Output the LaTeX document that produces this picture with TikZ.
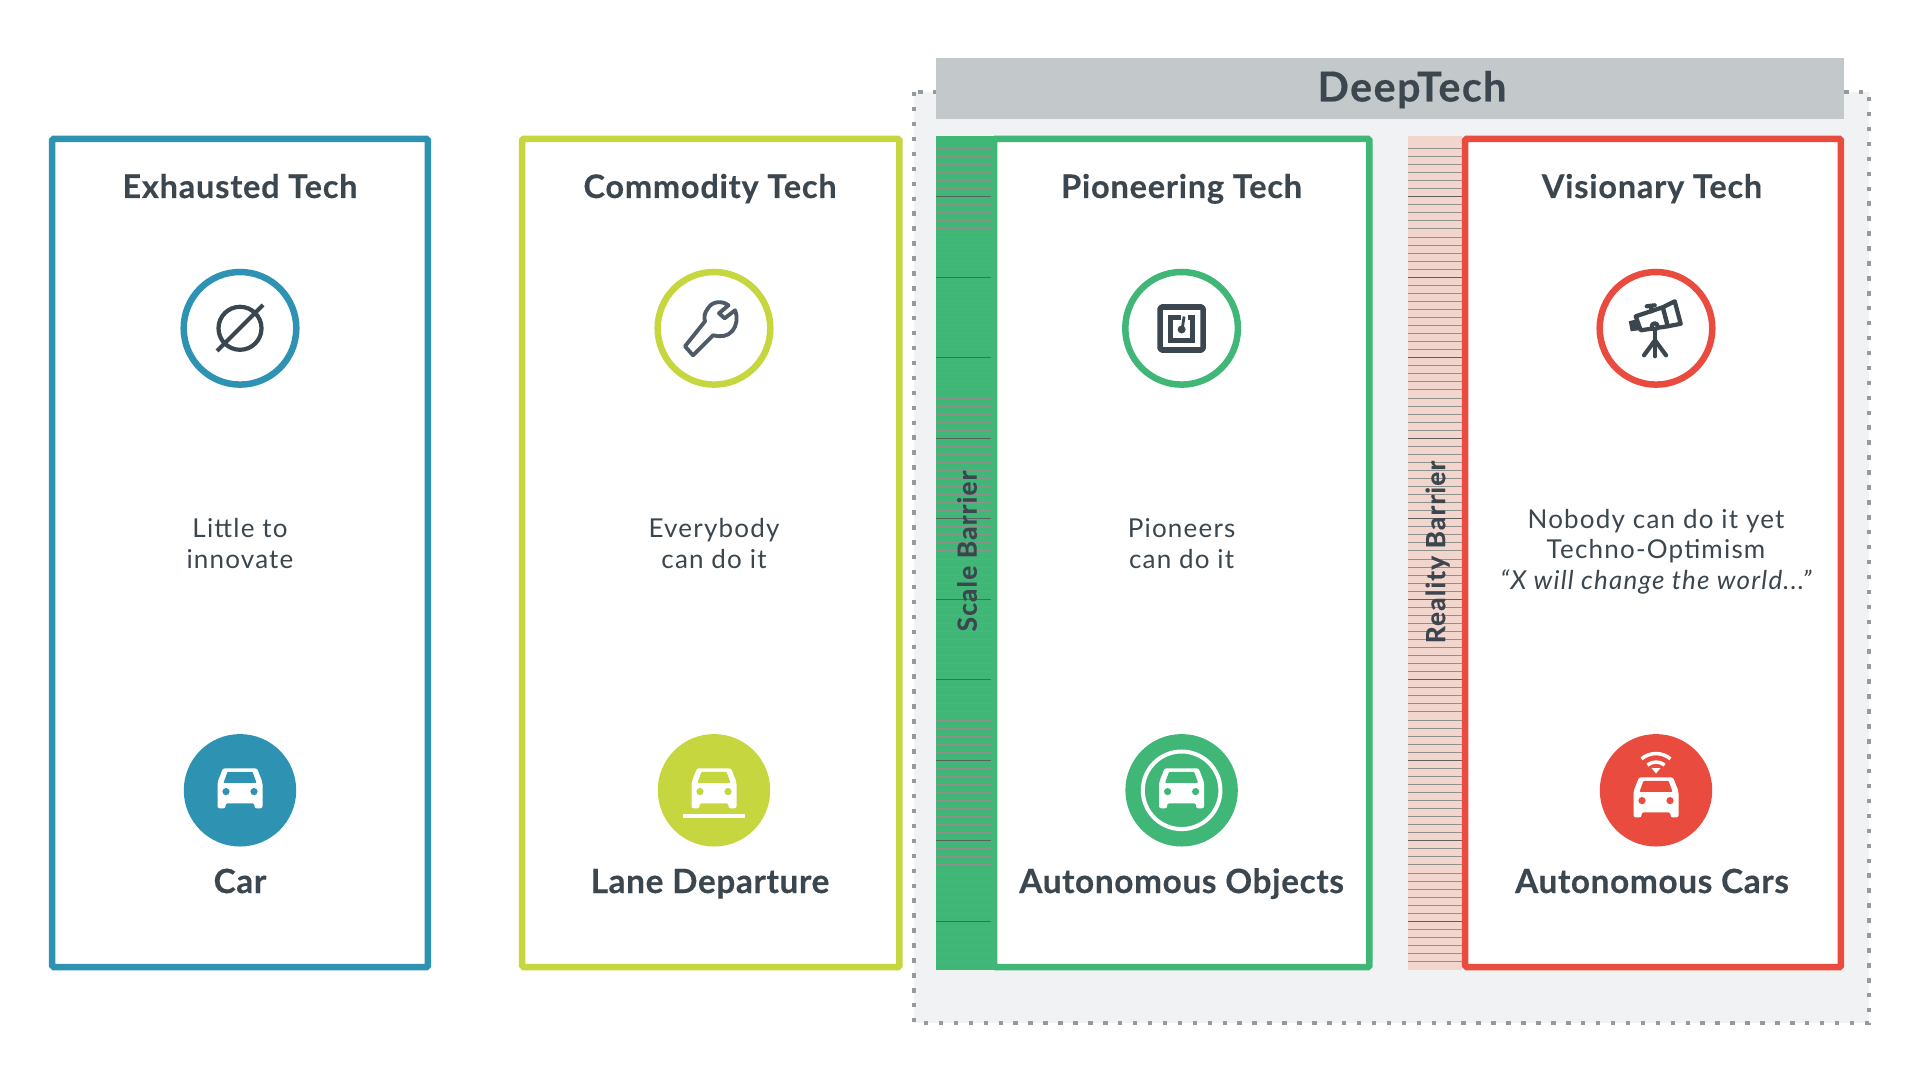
\documentclass[tikz,border=0pt]{standalone}
\usepackage{fontspec}
\setmainfont{Lato}[BoldFeatures={FakeBold=0.3}]
\definecolor{azulTech}{RGB}{46,147,178}
\definecolor{limaTech}{RGB}{198,214,63}
\definecolor{verdeTech}{RGB}{64,182,119}
\definecolor{rojoTech}{RGB}{233,76,63}
\definecolor{tinta}{RGB}{60,70,78}
\definecolor{tintaLlave}{RGB}{78,90,102}
\definecolor{bannerGris}{RGB}{195,200,202}
\definecolor{fondoGris}{RGB}{240,242,243}
\definecolor{puntoGris}{RGB}{147,155,156}
\definecolor{barreraRosa}{RGB}{242,213,204}
\definecolor{rayaClara}{RGB}{140,145,140}
\definecolor{rayaOscura}{RGB}{95,95,95}
\tikzset{
  techbox/.style={draw=#1, fill=white, line width=3.7pt, rounded corners=0.8pt},
  ringicon/.style={circle, draw=#1, fill=white, line width=3.7pt, minimum size=64.1pt, inner sep=0pt},
  discicon/.style={circle, fill=#1, minimum size=64pt, inner sep=0pt},
  titlelabel/.style={anchor=base, text=tinta, font=\fontsize{18.5}{20}\selectfont\bfseries\addfontfeatures{LetterSpace=2.4}},
  itemlabel/.style={anchor=base, text=tinta, font=\fontsize{19}{20}\selectfont\bfseries\addfontfeatures{LetterSpace=1.8}},
  bodylabel/.style={text=tinta, align=center, font=\fontsize{14.8}{17.4}\selectfont\addfontfeatures{LetterSpace=4.6}},
  barrierlabel/.style={text=tinta, rotate=90, font=\fontsize{15}{15}\selectfont\bfseries\addfontfeatures{LetterSpace=4.3}},
  iconline/.style={draw=tinta, line width=2.4pt, line join=round, line cap=round},
}
% Coche: centro, color de parabrisas
\newcommand{\caricon}[3]{%
  \begin{scope}[shift={(#1,#2)}]
    \fill[white, rounded corners=1.2pt] (-17,-22) -- (17,-22) -- (22.5,-8) -- (22.5,18) -- (14.5,18) -- (14.5,13)
      -- (-14.5,13) -- (-14.5,18) -- (-22.5,18) -- (-22.5,-8) -- cycle;
    \fill[#3, rounded corners=0.5pt] (-12.5,-18.5) -- (12.5,-18.5) -- (16.5,-7.5) -- (-16.5,-7.5) -- cycle;
    \fill[#3] (-14,1.3) circle (3.6);
    \fill[#3] (14,1.3) circle (3.6);
  \end{scope}}
\begin{document}
\begin{tikzpicture}[x=0.02cm, y=-0.02cm]
  \useasboundingbox (0,0) rectangle (1920,1081);
  % Parametros
  \def\yTop{138.9}   % borde superior de las cajas
  \def\yBot{967}     % borde inferior de las cajas
  \def\yRing{328.3}  % centro de los iconos de arriba
  \def\yDisc{790.3}  % centro de los iconos de abajo
  \def\yTitle{198}   % base de los titulos
  \def\yItem{893}    % base de las etiquetas

  % 1. ZONA DEEPTECH
  \fill[fondoGris] (914,92) rectangle (1869,1023);
  \draw[puntoGris, line width=2.6pt, dash pattern=on 2.55pt off 5.95pt] (914,92) -- (914,1023) -- (1869,1023) -- (1869,92) -- (914,92);
  \fill[bannerGris] (935.7,58.5) rectangle (1844,119);
  \node[anchor=base, text=tinta, font=\fontsize{23.5}{25}\selectfont\bfseries\addfontfeatures{LetterSpace=3.5}] (deeptech) at (1412,101.5) {DeepTech};

  % 2. BARRERAS
  \fill[verdeTech] (935.7,135.7) rectangle (997,970.3);
  \fill[barreraRosa] (1407.5,135.7) rectangle (1462,970.3);
  \foreach \i in {0,...,101} {
    \pgfmathsetmacro{\yLine}{148.3+8.05*\i}
    \pgfmathsetmacro{\tono}{ifthenelse(mod(\i,10)==6,100,0)}
    \draw[rayaOscura!\tono!rayaClara, line width=0.35pt] (935.7,\yLine) -- (992,\yLine);
    \draw[rayaOscura!\tono!rayaClara, line width=0.35pt] (1407.5,\yLine) -- (1462,\yLine);
  }

  % 3. CAJAS
  \filldraw[techbox=azulTech] (52.2,\yTop) rectangle (427.8,\yBot);
  \filldraw[techbox=limaTech] (522.2,\yTop) rectangle (899.3,\yBot);
  \filldraw[techbox=verdeTech] (994.2,\yTop) rectangle (1369.3,\yBot);
  \filldraw[techbox=rojoTech] (1465.2,\yTop) rectangle (1840.8,\yBot);
  \node[barrierlabel] (scalebarrier) at (967,551) {Scale Barrier};
  \node[barrierlabel] (realitybarrier) at (1437.5,552) {Reality Barrier};

  % 4. TITULOS
  \node[titlelabel] (exhausted) at (240,\yTitle) {Exhausted Tech};
  \node[titlelabel] (commodity) at (710,\yTitle) {Commodity Tech};
  \node[titlelabel] (pioneering) at (1181.6,\yTitle) {Pioneering Tech};
  \node[titlelabel] (visionary) at (1652,\yTitle) {Visionary Tech};

  % 5. ICONOS DE ARRIBA
  \node[ringicon=azulTech] (ringA) at (240,\yRing) {};
  \node[ringicon=limaTech] (ringB) at (714,\yRing) {};
  \node[ringicon=verdeTech] (ringC) at (1181.6,\yRing) {};
  \node[ringicon=rojoTech] (ringD) at (1656,\yRing) {};

  % Conjunto vacio
  \draw[iconline, line cap=butt] (240,\yRing) circle (21.5);
  \draw[iconline, line cap=butt] (217,351) -- (263,305);

  % Llave
  \begin{scope}[shift={(714,\yRing)}]
    \draw[iconline, draw=tintaLlave, line width=2.2pt] (-29,18) -- (-21,27) -- (-1,7)
      .. controls (6,9) and (14,8) .. (18,3) .. controls (23,-3) and (24,-11) .. (21,-18)
      -- (10.6,-10) -- (5,-15) -- (14.5,-23) .. controls (8,-28) and (-2,-27) .. (-6,-20)
      .. controls (-10,-15) and (-10,-11) .. (-9,-7) -- cycle;
  \end{scope}

  % Chip NFC
  \begin{scope}[shift={(1181.6,328.5)}]
    \draw[iconline, line width=3.2pt, rounded corners=1pt] (-21.5,-21.5) rectangle (21.5,21.5);
    \draw[iconline, line width=2.6pt, line cap=butt, line join=miter] (-1,-11) -- (-11,-11) -- (-11,12) -- (11,12) -- (11,-11) -- (6,-11);
    \fill[tinta] (0,1) circle (4);
    \draw[iconline, line width=1.6pt, line cap=butt] (2.5,-12) -- (0.5,1);
  \end{scope}

  % Telescopio
  \begin{scope}[shift={(1656.7,328.3)}]
    \draw[iconline] (-1.7,3) -- (-1.7,28);
    \draw[iconline] (-1.7,12) -- (-12.7,27);
    \draw[iconline] (-1.7,12) -- (9.3,27);
    \draw[iconline, fill=white] (6,-21) -- (18,-27) -- (24,-4.5) -- (11,-2) -- cycle;
    \draw[iconline, fill=white] (-21,-12) -- (6,-21) -- (11,-2) -- (-16,2) -- cycle;
    \fill[tinta] (-28,-7) -- (-20,-9) -- (-18,2) -- (-26,3) -- cycle;
    \draw[iconline] (-10,-22) -- (-2,-23);
    \draw[iconline] (-6,-22) -- (-5,-17);
    \draw[iconline, fill=white] (-2,-2) circle (3);
  \end{scope}

  % 6. TEXTOS CENTRALES
  \node[bodylabel] (bodyA) at (240,543.5) {Little to\\innovate};
  \node[bodylabel] (bodyB) at (714,543.5) {Everybody\\can do it};
  \node[bodylabel] (bodyC) at (1181.6,543.5) {Pioneers\\can do it};
  \node[bodylabel] (bodyD) at (1656,551.5) {Nobody can do it yet\\Techno-Optimism\\\itshape “X will change the world...”};

  % 7. ICONOS DE ABAJO
  \node[discicon=azulTech] (discA) at (240,\yDisc) {};
  \node[discicon=limaTech] (discB) at (714,\yDisc) {};
  \node[discicon=verdeTech] (discC) at (1181.6,\yDisc) {};
  \node[discicon=rojoTech] (discD) at (1656,\yDisc) {};

  \caricon{240}{\yDisc}{azulTech}
  \caricon{714}{\yDisc}{limaTech}
  \fill[white] (683,813.5) rectangle (745,817.5);
  \draw[white, line width=2.3pt] (1181.6,\yDisc) circle (38.8);
  \caricon{1181.6}{\yDisc}{verdeTech}
  \caricon{1656}{799.3}{rojoTech}
  % Wifi
  \begin{scope}[shift={(1656,776)}]
    \draw[white, line width=2pt] (-14.5,-17.2) arc[start angle=230, end angle=310, radius=22.5];
    \draw[white, line width=2pt] (-8.6,-11) arc[start angle=232, end angle=308, radius=14];
    \fill[white] (-4.5,-8) -- (4.5,-8) -- (0,-2.5) -- cycle;
  \end{scope}

  % 8. ETIQUETAS
  \node[itemlabel] (car) at (240,\yItem) {Car};
  \node[itemlabel] (lane) at (710,\yItem) {Lane Departure};
  \node[itemlabel] (objects) at (1181.6,\yItem) {Autonomous Objects};
  \node[itemlabel] (cars) at (1652,\yItem) {Autonomous Cars};
\end{tikzpicture}
\end{document}
